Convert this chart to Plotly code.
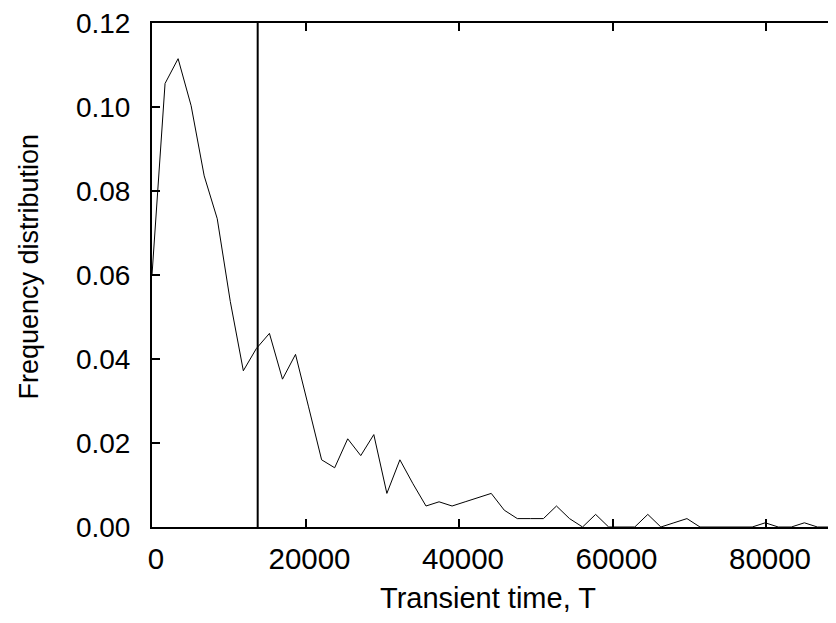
import plotly.graph_objects as go

# Transient time bins (T) and their frequency distribution
transient_time = [0, 1700, 3400, 5100, 6800, 8500, 10200, 11900, 13600, 15300,
                  17000, 18700, 20400, 22100, 23800, 25500, 27200, 28900, 30600, 32300,
                  34000, 35700, 37400, 39100, 40800, 42500, 44200, 45900, 47600, 49300,
                  51000, 52700, 54400, 56100, 57800, 59500, 61200, 62900, 64600, 66300,
                  68000, 69700, 71400, 73100, 74800, 76500, 78200, 79900, 81600, 83300,
                  85000, 86700, 88400]
frequency = [0.060, 0.1056, 0.1115, 0.1003, 0.0836, 0.0734, 0.0537, 0.0372, 0.0425, 0.0461,
             0.0352, 0.0411, 0.0286, 0.0160, 0.0141, 0.0210, 0.0170, 0.0220, 0.0080, 0.0160,
             0.0103, 0.0050, 0.0060, 0.0050, 0.0060, 0.0070, 0.0080, 0.0040, 0.0020, 0.0020,
             0.0020, 0.0050, 0.0020, 0.0, 0.0030, 0.0, 0.0, 0.0, 0.0030, 0.0,
             0.0010, 0.0020, 0.0, 0.0, 0.0, 0.0, 0.0, 0.0010, 0.0, 0.0,
             0.0010, 0.0, 0.0]

marker_T = 13770  # vertical reference line

x_ticks = [0, 20000, 40000, 60000, 80000]
x_tick_labels = ["0", "20000", "40000", "60000", "80000"]
y_ticks = [0.00, 0.02, 0.04, 0.06, 0.08, 0.10, 0.12]
y_tick_labels = ["0.00", "0.02", "0.04", "0.06", "0.08", "0.10", "0.12"]

x_max = 89120
y_max = 0.12

FONT = "Liberation Sans, Arial, Helvetica, sans-serif"

# page body adds an 8px offset; plot area should span x 152..836, y 20..527 in the window
OFF = 8
W, H = 836 - OFF, 623 - OFF
ML, MT = 152 - OFF, 20 - OFF
MB = (H + OFF) - 527
PW, PH = W - ML, H - MT - MB

fig = go.Figure()
fig.add_trace(go.Scatter(x=transient_time, y=frequency, mode="lines",
                         line=dict(color="black", width=1), showlegend=False))
fig.add_trace(go.Scatter(x=[marker_T, marker_T], y=[0, y_max], mode="lines",
                         line=dict(color="black", width=2), showlegend=False))

# right-side tick stubs (border itself lies just outside the picture)
for yv in y_ticks[1:-1]:
    fig.add_shape(type="line", xref="paper", yref="y", x0=1 - 2 / PW, x1=1,
                  y0=yv, y1=yv, line=dict(color="black", width=2))

fig.add_annotation(text="Transient time, T", xref="paper", yref="paper",
                   x=(488 - 152) / PW, y=-(598 - 527) / PH, showarrow=False,
                   xanchor="center", yanchor="middle", font=dict(family=FONT, size=29, color="black"))
fig.add_annotation(text="Frequency distribution", xref="paper", yref="paper",
                   x=(29 - 152) / PW, y=(527 - 265) / PH, showarrow=False, textangle=-90,
                   xanchor="center", yanchor="middle", font=dict(family=FONT, size=27, color="black"))

fig.update_layout(
    width=W, height=H,
    margin=dict(l=ML, r=0, t=MT, b=MB, pad=0),
    paper_bgcolor="white", plot_bgcolor="white",
    font=dict(family=FONT, size=28, color="black"),
    xaxis=dict(range=[0, x_max], tickvals=x_ticks, ticktext=x_tick_labels,
               ticks="inside", ticklen=8, tickwidth=2, tickcolor="black",
               tickfont=dict(size=29.5), ticklabeloverflow="allow",
               showline=True, linewidth=2, linecolor="black", mirror="ticks",
               showgrid=False, zeroline=False, ticklabelshift=4, ticklabelstandoff=5),
    yaxis=dict(range=[0, y_max], tickvals=y_ticks, ticktext=y_tick_labels,
               ticks="inside", ticklen=8, tickwidth=2, tickcolor="black",
               tickfont=dict(size=28), ticklabeloverflow="allow",
               showline=True, linewidth=2, linecolor="black", mirror=False,
               showgrid=False, zeroline=False, ticklabelstandoff=14),
)

fig.write_html("out.html")
